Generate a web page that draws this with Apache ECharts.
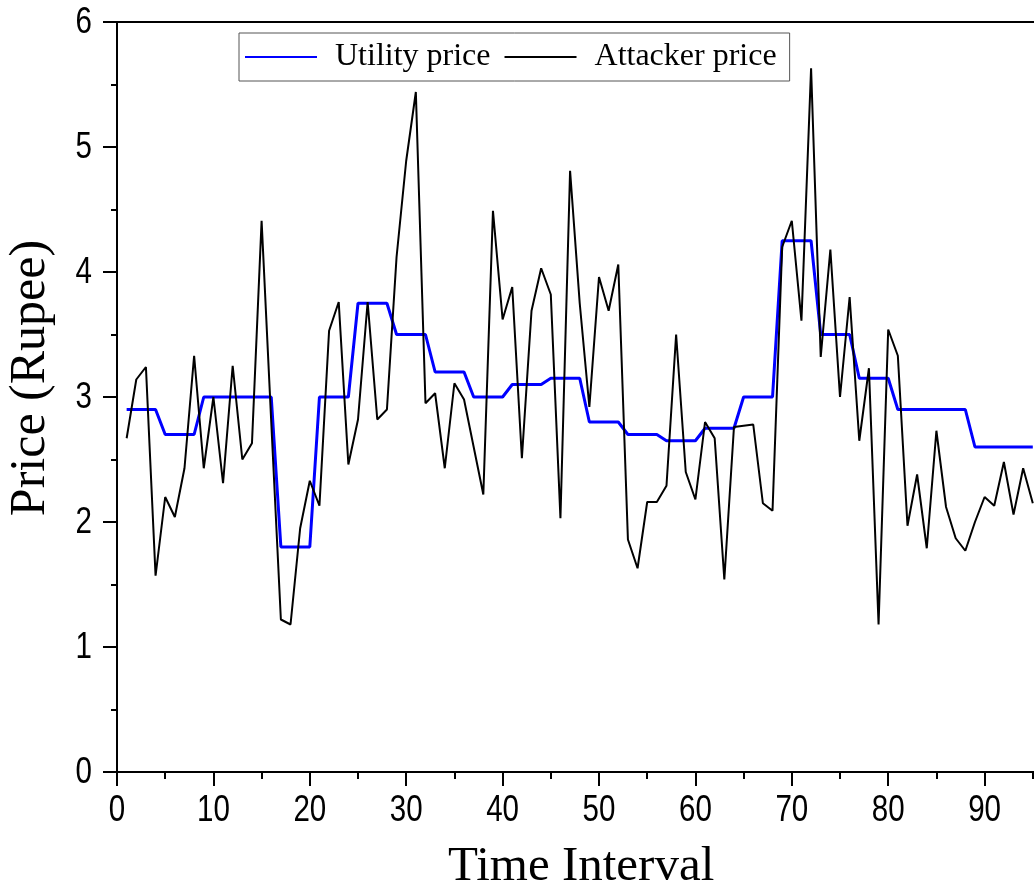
<!DOCTYPE html>
<html>
<head>
<meta charset="utf-8">
<script src="https://cdn.jsdelivr.net/npm/echarts@6/dist/echarts.min.js"></script>
<style>
  html, body { margin: 0; padding: 0; background: #fff; overflow: hidden; }
  #chart { width: 1100px; height: 894px; }
</style>
</head>
<body>
<div id="chart"></div>
<script>
// Price per time interval (Rupee)
const utilityPrice = [
  2.9, 2.9, 2.9, 2.9, 2.7, 2.7, 2.7, 2.7, 3.0, 3.0,
  3.0, 3.0, 3.0, 3.0, 3.0, 3.0, 1.8, 1.8, 1.8, 1.8,
  3.0, 3.0, 3.0, 3.0, 3.75, 3.75, 3.75, 3.75, 3.5, 3.5,
  3.5, 3.5, 3.2, 3.2, 3.2, 3.2, 3.0, 3.0, 3.0, 3.0,
  3.1, 3.1, 3.1, 3.1, 3.15, 3.15, 3.15, 3.15, 2.8, 2.8,
  2.8, 2.8, 2.7, 2.7, 2.7, 2.7, 2.65, 2.65, 2.65, 2.65,
  2.75, 2.75, 2.75, 2.75, 3.0, 3.0, 3.0, 3.0, 4.25, 4.25,
  4.25, 4.25, 3.5, 3.5, 3.5, 3.5, 3.15, 3.15, 3.15, 3.15,
  2.9, 2.9, 2.9, 2.9, 2.9, 2.9, 2.9, 2.9, 2.6, 2.6,
  2.6, 2.6, 2.6, 2.6, 2.6
];

const attackerPrice = [
  2.67, 3.14, 3.24, 1.57, 2.20, 2.04, 2.43, 3.33, 2.43, 3.00,
  2.31, 3.25, 2.50, 2.63, 4.41, 2.80, 1.22, 1.18, 1.95, 2.33,
  2.13, 3.53, 3.76, 2.46, 2.82, 3.76, 2.82, 2.90, 4.12, 4.89,
  5.44, 2.95, 3.03, 2.43, 3.11, 2.98, 2.60, 2.22, 4.49, 3.62,
  3.88, 2.51, 3.69, 4.03, 3.82, 2.03, 4.81, 3.75, 2.92, 3.96,
  3.69, 4.06, 1.86, 1.63, 2.16, 2.16, 2.29, 3.50, 2.40, 2.18,
  2.80, 2.67, 1.54, 2.76, 2.77, 2.78, 2.15, 2.09, 4.20, 4.41,
  3.61, 5.63, 3.32, 4.18, 3.00, 3.80, 2.65, 3.23, 1.18, 3.54,
  3.33, 1.97, 2.38, 1.79, 2.73, 2.12, 1.87, 1.77, 2.00, 2.20,
  2.13, 2.48, 2.06, 2.43, 2.15
];

const seriesNames = ['Utility price', 'Attacker price'];
const xTickLabels = [0, 10, 20, 30, 40, 50, 60, 70, 80, 90, 100];
const yTickLabels = [0, 1, 2, 3, 4, 5, 6];
const xTitle = 'Time Interval';
const yTitle = 'Price (Rupee)';

const toPoints = arr => arr.map((v, i) => [i + 1, v]);

const tickFont = '36px "Liberation Sans", Arial, sans-serif';
const serifFont = '"Liberation Serif", "Times New Roman", "DejaVu Serif", serif';
const tickScaleX = 0.82;

const chart = echarts.init(document.getElementById('chart'), null, { renderer: 'canvas' });

const axisCommon = {
  type: 'value',
  axisLine: { show: true, lineStyle: { color: '#000', width: 2 } },
  axisTick: { show: true, length: 14, lineStyle: { color: '#000', width: 2 } },
  splitLine: { show: false },
  // labels are drawn as narrow text below, at the axis' own tick positions
  axisLabel: { show: false }
};

chart.setOption({
  backgroundColor: '#ffffff',
  animation: false,
  grid: {
    left: 117, top: 22, right: 19, bottom: 122,
    show: true, borderColor: '#000', borderWidth: 2, backgroundColor: 'transparent'
  },
  legend: {
    left: 239, top: 33,
    orient: 'horizontal',
    itemWidth: 72, itemHeight: 14, itemGap: 13,
    padding: [8, 13, 8, 5],
    borderColor: '#555', borderWidth: 1,
    backgroundColor: '#fff',
    itemStyle: { opacity: 0 },
    textStyle: { fontFamily: serifFont, fontSize: 32, color: '#000', padding: [0, 0, 0, 13] },
    data: seriesNames
  },
  xAxis: Object.assign({}, axisCommon, {
    min: 0, max: 100, interval: 10,
    minorTick: { show: true, splitNumber: 2, length: 7, lineStyle: { color: '#000', width: 2 } }
  }),
  yAxis: Object.assign({}, axisCommon, {
    min: 0, max: 6, interval: 1,
    minorTick: { show: true, splitNumber: 2, length: 6, lineStyle: { color: '#000', width: 2 } }
  }),
  series: [
    {
      name: seriesNames[0], type: 'line', data: toPoints(utilityPrice),
      symbol: 'none', lineStyle: { color: '#0000ff', width: 3 }, itemStyle: { color: '#0000ff' },
      z: 2
    },
    {
      name: seriesNames[1], type: 'line', data: toPoints(attackerPrice),
      symbol: 'none', lineStyle: { color: '#000000', width: 2 }, itemStyle: { color: '#000000' },
      z: 3
    }
  ]
});

// Tick labels and axis titles
const graphics = [];
xTickLabels.forEach(v => {
  const px = chart.convertToPixel({ xAxisIndex: 0 }, v);
  graphics.push({
    type: 'text', x: px, y: 811, scaleX: tickScaleX, silent: true,
    style: { text: String(v), font: tickFont, fill: '#000', align: 'center', verticalAlign: 'middle' }
  });
});
yTickLabels.forEach(v => {
  const py = chart.convertToPixel({ yAxisIndex: 0 }, v);
  graphics.push({
    type: 'text', x: 92, y: py + 1, scaleX: tickScaleX, silent: true,
    style: { text: String(v), font: tickFont, fill: '#000', align: 'right', verticalAlign: 'middle' }
  });
});
graphics.push({
  type: 'text', left: 448, top: 843,
  style: { text: xTitle, font: '49px ' + serifFont, fill: '#000' }
});
graphics.push({
  type: 'text', x: 31, y: 378, rotation: Math.PI / 2,
  style: { text: yTitle, font: '50px ' + serifFont, fill: '#000', align: 'center', verticalAlign: 'middle' }
});
chart.setOption({ graphic: graphics });
</script>
</body>
</html>
